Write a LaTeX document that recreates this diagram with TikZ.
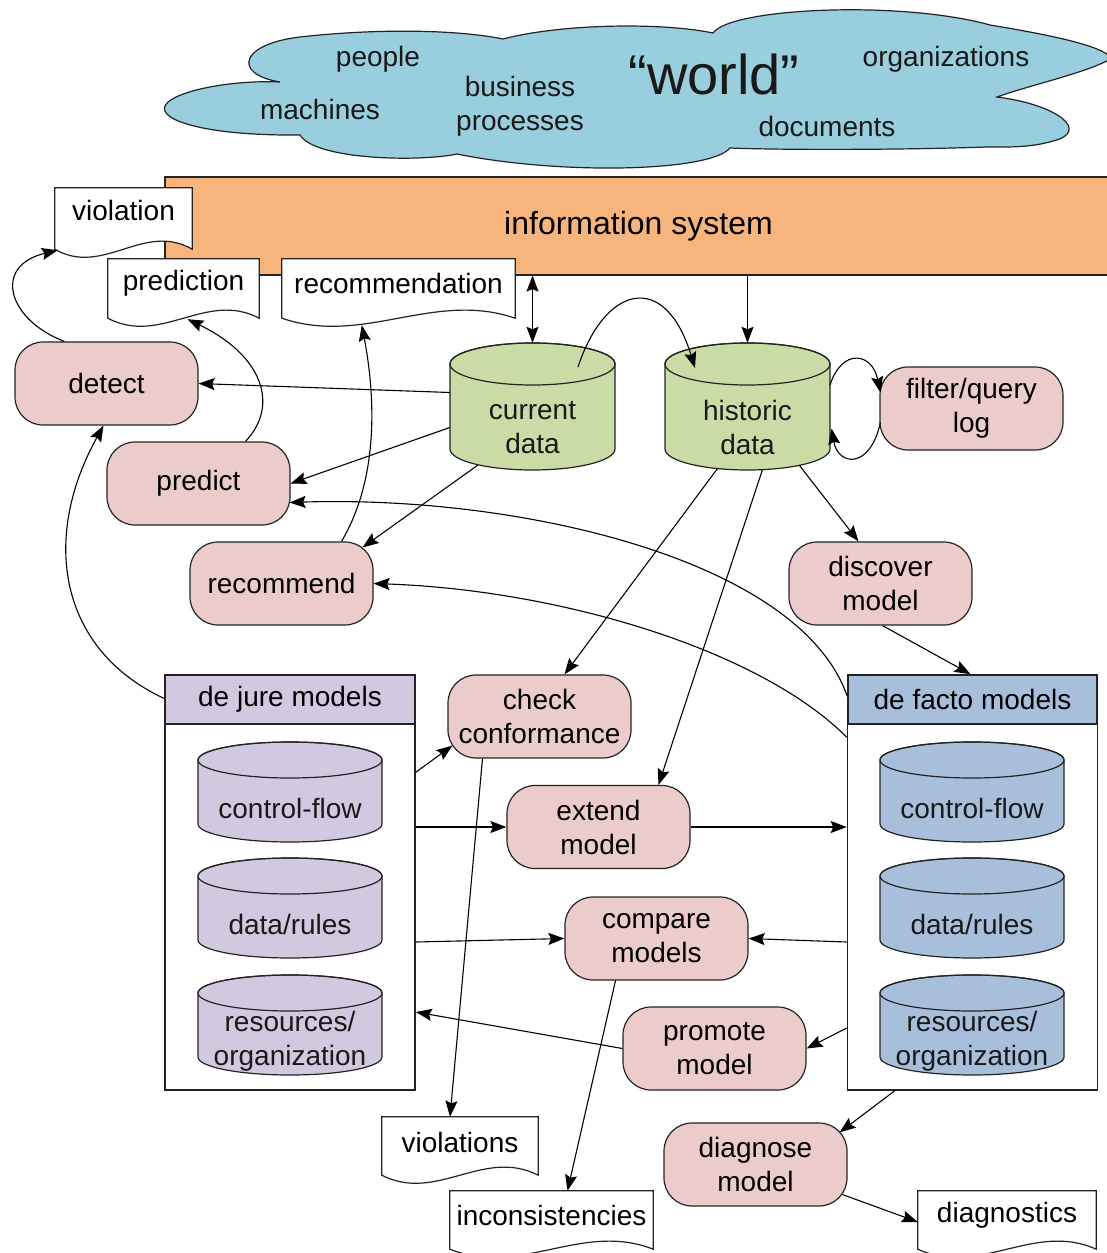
\documentclass[tikz,border=0pt]{standalone}
\usepackage{fontspec}
\setmainfont{Liberation Sans}
\usetikzlibrary{arrows.meta,calc}
\pgfdeclarelayer{bg}\pgfdeclarelayer{docs}
\pgfsetlayers{bg,docs,main}
\definecolor{cloudc}{RGB}{152,206,221}
\definecolor{orangec}{RGB}{247,180,124}
\definecolor{pinkc}{RGB}{236,203,203}
\definecolor{greenc}{RGB}{202,219,166}
\definecolor{purplec}{RGB}{210,201,224}
\definecolor{bluec}{RGB}{168,191,219}
\definecolor{linec}{RGB}{35,35,35}
\newcommand\fs[1]{\fontsize{#1}{34}\selectfont}
\tikzset{
  proc/.style={draw=linec, line width=1.2pt, fill=pinkc, rounded corners=28pt,
    minimum width=183pt, minimum height=83pt, align=center, inner sep=0pt, font=\fs{28}},
  txt/.style={font=\fs{28}, align=center, inner sep=0pt, text=black!90},
  docnode/.style={inner sep=0pt, font=\fs{28}, align=center},
  hdr/.style={draw=linec, line width=1.6pt, minimum width=250pt, minimum height=49pt, inner sep=0pt, font=\fs{28}},
  frame/.style={draw=linec, line width=1.6pt, minimum width=250pt, minimum height=366pt, inner sep=0pt},
  arr/.style={-{Stealth[length=16pt,width=12pt,inset=2.5pt]}, line width=1.1pt, draw=black},
  arrboth/.style={{Stealth[length=16pt,width=12pt,inset=2.5pt]}-{Stealth[length=16pt,width=12pt,inset=2.5pt]}, line width=1.1pt, draw=black},
}
% cylinder: cx, top, bottom, rx, ry, colour
\newcommand\drawcyl[6]{%
  \filldraw[draw=linec, line width=1.2pt, fill=#6] ({#1-#4},{#2+#5}) -- ({#1-#4},{#3-#5})
    arc[start angle=180,end angle=360,x radius=#4pt,y radius=#5pt] -- ({#1+#4},{#2+#5})
    arc[start angle=0,end angle=180,x radius=#4pt,y radius=#5pt] -- cycle;
  \draw[draw=linec, line width=1.2pt] (#1,{#2+#5}) ellipse[x radius=#4pt, y radius=#5pt];}
% document outline around a named node
\newcommand\docshape[1]{%
  \begin{pgfonlayer}{docs}
  \filldraw[draw=linec, fill=white, line width=1.2pt] (#1.north west) -- (#1.north east) -- (#1.south east)
    .. controls ($(#1.south east)!0.35!(#1.south west)+(0,-28)$) and ($(#1.south east)!0.65!(#1.south west)+(0,28)$) .. (#1.south west) -- cycle;
  \end{pgfonlayer}}
\newcommand\rb[2]{\raisebox{#1pt}[\height][\depth]{#2}}
\begin{document}
\begin{tikzpicture}[x=1pt,y=-1pt]
\useasboundingbox (0,0) rectangle (1107,1253);

% ---------- world cloud and information system ----------
\begin{pgfonlayer}{bg}
\filldraw[fill=cloudc, draw=linec, line width=1.2pt]
  (280,82) .. controls (232,74) and (240,44) .. (300,37)
  .. controls (380,28) and (460,30) .. (503,39)
  .. controls (560,24) and (660,22) .. (713,33)
  .. controls (730,8) and (900,0) .. (990,25)
  .. controls (1050,35) and (1100,45) .. (1112,58)
  .. controls (1090,72) and (1030,85) .. (997,97)
  .. controls (1060,105) and (1090,132) .. (1053,141)
  .. controls (1030,148) and (1005,147) .. (987,147)
  .. controls (900,150) and (780,150) .. (730,148)
  .. controls (710,172) and (560,175) .. (457,154)
  .. controls (420,162) and (315,160) .. (300,135)
  .. controls (200,136) and (150,118) .. (168,102)
  .. controls (185,88) and (240,80) .. (280,82) -- cycle;
\node[draw=linec, fill=orangec, line width=1.2pt, minimum width=947pt, minimum height=98pt,
  inner sep=0pt, font=\fs{32}] (info) at (638.5,226) {information system};
\end{pgfonlayer}
\node[txt] (w-people) at (378,59) {people};
\node[txt] (w-machines) at (320,109) {machines};
\node[txt] (w-business) at (520,106) {business\\processes};
\node[txt, font=\fontsize{56}{60}\selectfont] (w-world) at (714,74) {“world”};
\node[txt] (w-org) at (946,59) {organizations};
\node[txt] (w-docs) at (827,126) {documents};

% ---------- documents ----------
\node[docnode, minimum width=137pt, minimum height=61pt] (violation) at (123.5,218.5) {\rb{8}{violation}};
\node[docnode, minimum width=151pt, minimum height=59pt] (prediction) at (183.5,288.5) {\rb{5}{prediction}};
\node[docnode, minimum width=233pt, minimum height=59pt] (recommendation) at (398.5,288.5) {\rb{5}{recommendation}};
\node[docnode, minimum width=156pt, minimum height=58pt] (violations) at (460,1146) {\rb{4}{violations}};
\node[docnode, minimum width=203pt, minimum height=58pt] (inconsist) at (551.5,1220) {\rb{5}{inconsistencies}};
\node[docnode, minimum width=178pt, minimum height=58pt] (diagnostics) at (1007,1220) {\rb{5}{diagnostics}};
\docshape{violation}\docshape{prediction}\docshape{recommendation}
\docshape{violations}\docshape{inconsist}\docshape{diagnostics}

% ---------- data stores ----------
\drawcyl{532.5}{343}{470}{82.5}{21}{greenc}
\drawcyl{747.5}{343}{470}{82.5}{21}{greenc}
\node[txt, minimum width=165pt, minimum height=85pt] (cur) at (532.5,427.5) {current\\data};
\node[txt, minimum width=165pt, minimum height=85pt] (hist) at (747.5,427.5) {historic\\data};

% ---------- activities ----------
\node[proc] (detect) at (106.5,383.5) {detect};
\node[proc] (predict) at (198.5,483.5) {predict};
\node[proc] (recommend) at (281.5,583.5) {recommend};
\node[proc] (filt) at (971.5,408.5) {filter/query\\log};
\node[proc] (discover) at (880.5,583.5) {discover\\model};
\node[proc] (check) at (539.5,716.5) {check\\conformance};
\node[proc] (extend) at (598.5,827) {extend\\model};
\node[proc] (compare) at (656.5,938.5) {compare\\models};
\node[proc] (promote) at (714.5,1048.5) {promote\\model};
\node[proc] (diagnose) at (755.5,1164.5) {diagnose\\model};

% ---------- model containers ----------
\node[frame] (jurebox) at (290,907) {};
\node[hdr, fill=purplec] (jure) at (290,699.5) {de jure models};
\node[frame] (factobox) at (972.5,907) {};
\node[hdr, fill=bluec, minimum width=249pt] (facto) at (972.5,699.5) {de facto models};

\drawcyl{290}{742}{842}{92}{18}{purplec}
\drawcyl{290}{858}{958}{92}{18}{purplec}
\drawcyl{290}{975}{1075}{92}{18}{purplec}
\drawcyl{972}{742}{842}{92}{18}{bluec}
\drawcyl{972}{858}{958}{92}{18}{bluec}
\drawcyl{972}{975}{1075}{92}{18}{bluec}
\node[txt] (cfj) at (290,808) {control-flow};
\node[txt] (drj) at (290,924) {data/rules};
\node[txt] (roj) at (290,1041) {resources/\\organization};
\node[txt] (cff) at (972,808) {control-flow};
\node[txt] (drf) at (972,924) {data/rules};
\node[txt] (rof) at (972,1041) {resources/\\organization};

% ---------- connectors ----------
\draw[arrboth] (info.south -| cur) -- ($(cur.north)+(0,-42)$);
\draw[arr] (info.south -| hist) -- ($(hist.north)+(0,-42)$);
\draw[arr] ($(cur)+(45.5,-60.5)$) .. controls (605,285) and (665,270) .. ($(hist)+(-52.5,-59.5)$);
\draw[arr] ($(hist)+(82.5,-42.5)$) .. controls (842,348) and (872,352) .. ($(filt.west)+(1,-16)$);
\draw[arr] ($(filt.west)+(1,14)$) .. controls (870,470) and (838,466) .. ($(hist)+(84,1)$);
\draw[arr] ($(cur.west)+(0,-35)$) -- (detect.east);
\draw[arr] (cur.west) -- (predict.east);
\draw[arr] ($(cur)+(-54.5,37.5)$) -- ($(recommend.north east)+(-11,6)$);
\draw[arr] ($(detect.north west)+(50,0)$) .. controls (8,320) and (-8,266) .. ($(violation.south west)+(3,1)$);
\draw[arr] ($(predict.north)+(47,0)$) .. controls (280,405) and (262,355) .. ($(prediction.south)+(4,1)$);
\draw[arr] ($(recommend.north)+(60,0)$) .. controls (378,480) and (376,400) .. ($(recommendation.south west)+(80,7)$);
\draw[arr] ($(hist)+(52,38)$) -- ($(discover.north)+(-22,0)$);
\draw[arr] ($(discover.south)+(2,0)$) -- ($(facto.north)+(-2,0)$);
\draw[arr] ($(hist)+(-30,41)$) -- ($(check.north)+(25,0)$);
\draw[arr] ($(hist)+(15,42)$) -- ($(extend.north)+(60,0)$);
\draw[arr] ($(facto.north west)+(0,22)$) .. controls (800,560) and (520,495) .. ($(predict.east)+(-1,19)$);
\draw[arr] ($(factobox.north west)+(0,14)$) .. controls (760,650) and (560,590) .. (recommend.east);
\draw[arr] ($(jure.west)+(0,-1)$) .. controls (60,650) and (40,540) .. ($(detect.south)+(-3,0)$);
\draw[arr] ($(jurebox.north east)+(0,49)$) -- ($(check.south west)+(5,-13)$);
\draw[arr] (jurebox.east |- extend) -- (extend.west);
\draw[arr] (extend.east) -- (factobox.west |- extend);
\draw[arr] ($(jurebox.east)+(0,35)$) -- (compare.west);
\draw[arr] ($(factobox.west)+(0,35)$) -- (compare.east);
\draw[arr] (promote.west) -- ($(jurebox.east)+(0,105)$);
\draw[arr] ($(factobox.west)+(0,121)$) -- (promote.east);
\draw[arr] ($(check.south)+(-57,0)$) -- ($(violations.north)+(-10,0)$);
\draw[arr] ($(compare.south)+(-41,0)$) -- ($(inconsist.north)+(16,0)$);
\draw[arr] ($(factobox.south west)+(48,0)$) -- ($(diagnose.north east)+(-8,10)$);
\draw[arr] ($(diagnose.south east)+(-5,-12)$) -- ($(diagnostics.west)+(0,2)$);
\end{tikzpicture}
\end{document}
